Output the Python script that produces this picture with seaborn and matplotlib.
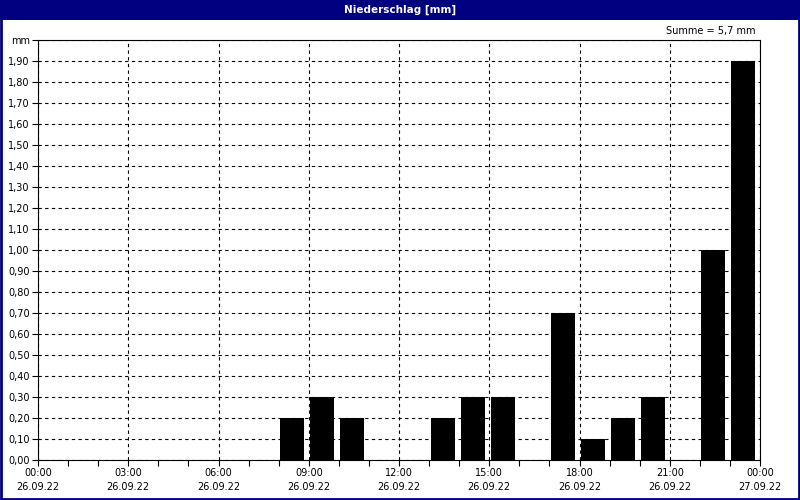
import numpy as np
import pandas as pd
import matplotlib
matplotlib.use("Agg")
import matplotlib.pyplot as plt
import seaborn as sns
from matplotlib.patches import Rectangle

# data: hourly precipitation (hour start), mm
stunde = [8, 9, 10, 13, 14, 15, 17, 18, 19, 20, 22, 23]
niederschlag = [0.2, 0.3, 0.2, 0.2, 0.3, 0.3, 0.7, 0.1, 0.2, 0.3, 1.0, 1.9]
tick_zeit = ['00:00', '03:00', '06:00', '09:00', '12:00', '15:00', '18:00', '21:00', '00:00']
tick_datum = ['26.09.22'] * 8 + ['27.09.22']
y_ticks = [round(i * 0.1, 1) for i in range(20)]

data = pd.DataFrame({'x': [h + 0.45 for h in stunde], 'mm': niederschlag})

sns.set_style('white')
plt.rcParams['font.family'] = ['DejaVu Sans']
plt.rcParams['text.color'] = 'black'
plt.rcParams['xtick.color'] = 'black'
plt.rcParams['ytick.color'] = 'black'

fig = plt.figure(figsize=(8, 5), dpi=100)
fig.patch.set_facecolor('white')
# title bar + border
fig.patches.append(Rectangle((0, 1 - 20 / 500), 1, 20 / 500, transform=fig.transFigure,
                             facecolor='#000080', edgecolor='none', zorder=0))
fig.patches.append(Rectangle((0.001, 0.002), 0.998, 0.996, transform=fig.transFigure,
                             facecolor='none', edgecolor='#000080', linewidth=2, zorder=5))
fig.text(0.5, 1 - 10 / 500, 'Niederschlag [mm]', color='white', fontsize=7.5,
         fontweight='bold', ha='center', va='center')

ax = fig.add_axes([38 / 800, 40 / 500, 722 / 800, 420 / 500])
sns.barplot(data, x='x', y='mm', native_scale=True, width=0.8, color='black',
            saturation=1, edgecolor='black', linewidth=0, ax=ax, zorder=3)

ax.set_xlim(0, 24)
ax.set_ylim(0, 2.0)
ax.set_xticks(range(0, 25, 3))
ax.set_xticklabels([f'{t}\n{d}' for t, d in zip(tick_zeit, tick_datum)],
                   fontsize=7, linespacing=1.5)
ax.set_xticks(range(0, 25), minor=True)
ax.set_yticks(y_ticks + [2.0])
ax.set_yticklabels([f'{v:.2f}'.replace('.', ',') for v in y_ticks] + ['mm'], fontsize=7)
ax.tick_params(axis='both', which='both', direction='out', length=4, width=0.8,
               color='black', pad=2, bottom=True, left=True)
ax.tick_params(axis='x', which='major', pad=2)
ax.grid(True, which='major', color='black', linestyle=(0, (3, 3)), linewidth=0.8, zorder=1)
ax.set_axisbelow(True)
for s in ax.spines.values():
    s.set_color('black')
    s.set_linewidth(0.8)
ax.set_xlabel('')
ax.set_ylabel('')

fig.text(755 / 800, 1 - 31 / 500, 'Summe = %s mm' % f'{sum(niederschlag):.1f}'.replace('.', ','),
         fontsize=7, ha='right', va='center')

fig.savefig('out.png', dpi=100)
